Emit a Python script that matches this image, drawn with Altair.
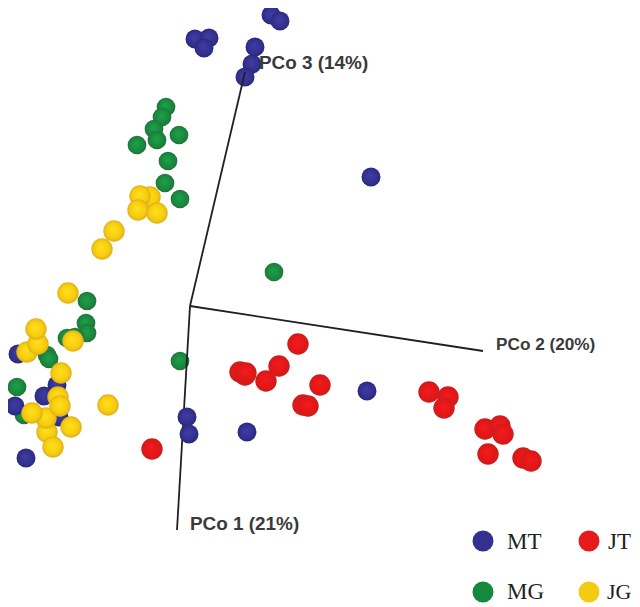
import altair as alt
import pandas as pd

# Sample positions (projected PCoA plane, picture units)
mt_x = [271, 280, 195, 209, 204, 255, 252, 245, 371, 367, 247, 18, 57, 44, 15, 59, 26]
mt_y = [15, 21, 39, 38, 48, 47, 64, 77, 177, 391, 432, 354, 385, 396, 406, 417, 458]
mt_front_x = [187, 189]
mt_front_y = [417, 434]
mg_x = [166, 162, 154, 157, 179, 137, 168, 165, 180, 274, 180, 87, 86, 87, 67, 75, 47, 49, 17, 24]
mg_y = [107, 117, 129, 140, 135, 145, 161, 183, 199, 272, 361, 301, 323, 333, 338, 337, 355, 359, 387, 415]
jt_x = [152, 298, 279, 240, 245, 246, 266, 320, 303, 308, 429, 448, 444, 485, 500, 503, 488, 523, 531]
jt_y = [449, 344, 366, 372, 375, 373, 381, 385, 405, 406, 392, 397, 408, 429, 426, 434, 454, 458, 461]
jg_x = [150, 140, 138, 157, 114, 102, 68, 73, 27, 38, 36, 58, 61, 47, 71, 46, 60, 32, 53, 108]
jg_y = [197, 196, 210, 213, 231, 249, 293, 341, 352, 344, 329, 397, 373, 432, 427, 418, 406, 413, 447, 405]

# Axes of the ordination
axis_from_x = [190, 190, 190]
axis_from_y = [306, 306, 306]
axis_to_x = [177, 483, 245]
axis_to_y = [530, 351, 72]
axis_names = ["PCo 1 (21%)", "PCo 2 (20%)", "PCo 3 (14%)"]
axis_label_x = [190, 496, 259]
axis_label_y = [524, 345, 63]
axis_label_size = [18.9, 17.2, 18.9]

# Legend
legend_names = ["MT", "JT", "MG", "JG"]
legend_x = [483, 589, 483, 589]
legend_y = [541, 541, 592, 592]
legend_text_x = [507, 608, 507, 607]
legend_text_y = [542, 542, 592, 592]
legend_text_size = [23, 23, 23, 22]
legend_colors = ["#33308f", "#e71a1a", "#14893e", "#f5ca13"]

X = alt.Scale(domain=[8, 632], nice=False, zero=False)
Y = alt.Scale(domain=[8, 603], range=[0, 595], nice=False, zero=False)
x_enc = alt.X("x:Q", scale=X, axis=None)
y_enc = alt.Y("y:Q", scale=Y, axis=None)


def spheres(xs, ys, stops, size):
    grad = alt.RadialGradient(
        gradient="radial", x1=0.45, y1=0.42, r1=0, x2=0.5, y2=0.5, r2=0.52,
        stops=[alt.GradientStop(offset=o, color=c) for o, c in stops],
    )
    return (
        alt.Chart(pd.DataFrame({"x": xs, "y": ys}))
        .mark_circle(fill=grad, opacity=1, size=size, clip=False)
        .encode(x=x_enc, y=y_enc)
    )


blue = [(0, "#3f3ea6"), (0.7, "#33308f"), (1, "#2a2878")]
green = [(0, "#1fa04c"), (0.7, "#17893d"), (1, "#2b6b3a")]
red = [(0, "#f21c1c"), (0.7, "#e31616"), (1, "#c42020")]
yellow = [(0, "#ffe01a"), (0.7, "#f8cb0e"), (1, "#d6ac1c")]

lines = (
    alt.Chart(pd.DataFrame({"x": axis_from_x, "y": axis_from_y, "x2": axis_to_x, "y2": axis_to_y}))
    .mark_rule(color="#231f20", strokeWidth=1.8)
    .encode(x=x_enc, y=y_enc, x2="x2:Q", y2="y2:Q")
)
labels = (
    alt.Chart(pd.DataFrame({"x": axis_label_x, "y": axis_label_y, "t": axis_names, "s": axis_label_size}))
    .mark_text(font="Liberation Sans", fontWeight="bold", align="left", baseline="middle", color="#3a3a3a")
    .encode(x=x_enc, y=y_enc, text="t:N", size=alt.Size("s:Q", scale=None, legend=None))
)
legend_dots = (
    alt.Chart(pd.DataFrame({"x": legend_x, "y": legend_y, "c": legend_colors}))
    .mark_circle(opacity=1, size=440, clip=False)
    .encode(x=x_enc, y=y_enc, color=alt.Color("c:N", scale=None, legend=None))
)
legend_text = (
    alt.Chart(pd.DataFrame({"x": legend_text_x, "y": legend_text_y, "t": legend_names, "s": legend_text_size}))
    .mark_text(font="Liberation Serif", align="left", baseline="middle", color="#231f20")
    .encode(x=x_enc, y=y_enc, text="t:N", size=alt.Size("s:Q", scale=None, legend=None))
)

chart = (
    alt.layer(
        spheres(mg_x, mg_y, green, 350),
        spheres(mt_x, mt_y, blue, 360),
        lines,
        spheres(mt_front_x, mt_front_y, blue, 360),
        spheres(jt_x, jt_y, red, 460),
        spheres(jg_x, jg_y, yellow, 460),
        labels,
        legend_dots,
        legend_text,
    )
    .properties(width=624, height=595, padding=0, autosize=alt.AutoSizeParams(type="none"))
    .configure_view(stroke=None)
)

chart.save("out.html", embed_options={"renderer": "svg", "actions": False})
